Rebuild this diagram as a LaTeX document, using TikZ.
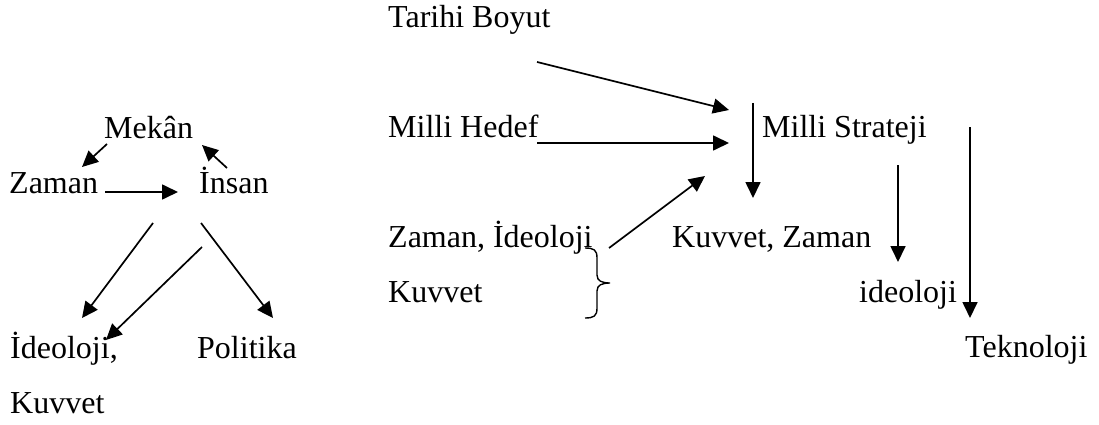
\documentclass[tikz,border=0pt]{standalone}
\usepackage{fontspec}
\setmainfont{Liberation Serif}
\usetikzlibrary{arrows.meta}

\tikzset{
	word/.style={anchor=base west, inner sep=0pt, font=\fontsize{32}{38}\selectfont},
	link/.style={line width=1.7pt, -{Triangle[length=16pt, width=15pt]}}
}

\begin{document}
\begin{tikzpicture}[x=1pt, y=-1pt]
	\useasboundingbox (0,0) rectangle (1099,425);

	% left triangle
	\node[word] (mekan) at (104,138) {Mekân};
	\node[word] (zaman) at (9,193) {Zaman};
	\node[word] (insan) at (199,193) {İnsan};
	\node[word] (ideo) at (10,358) {İdeoloji,};
	\node[word] (kuv) at (10,413) {Kuvvet};
	\node[word] (pol) at (197,358) {Politika};

	% right part
	\node[word] (tarih) at (388,28) {Tarihi Boyut};
	\node[word] (hedef) at (388,137) {Milli Hedef};
	\node[word] (strat) at (762,137) {Milli Strateji};
	\node[word] (zid) at (388,247) {Zaman, İdeoloji};
	\node[word] (kuvr) at (388,302) {Kuvvet};
	\node[word] (kz) at (672,247) {Kuvvet, Zaman};
	\node[word] (ideor) at (859,302) {ideoloji};
	\node[word] (tek) at (965,357) {Teknoloji};

	% arrow ends
	\coordinate (m1) at (107,144); \coordinate (m2) at (82,167);
	\coordinate (i1) at (227,168); \coordinate (i2) at (202,145);
	\coordinate (z1) at (105,192); \coordinate (z2) at (178,192);
	\coordinate (a1) at (153,223); \coordinate (a2) at (82,318);
	\coordinate (b1) at (202,247); \coordinate (b2) at (106,340);
	\coordinate (c1) at (201,223); \coordinate (c2) at (273,318);
	\coordinate (t1) at (537,62);  \coordinate (t2) at (729,110);
	\coordinate (h1) at (537,143); \coordinate (h2) at (729,143);
	\coordinate (g1) at (609,248); \coordinate (g2) at (705,176);
	\coordinate (s1) at (753,103); \coordinate (s2) at (753,198);
	\coordinate (d1) at (898,165); \coordinate (d2) at (898,262);
	\coordinate (e1) at (970,127); \coordinate (e2) at (970,318);

	% arrows
	\draw[link] (m1) -- (m2);
	\draw[link] (i1) -- (i2);
	\draw[link] (z1) -- (z2);
	\draw[link] (a1) -- (a2);
	\draw[link] (b1) -- (b2);
	\draw[link] (c1) -- (c2);
	\draw[link] (t1) -- (t2);
	\draw[link] (h1) -- (h2);
	\draw[link] (g1) -- (g2);
	\draw[link] (s1) -- (s2);
	\draw[link] (d1) -- (d2);
	\draw[link] (e1) -- (e2);

	% brace
	\draw[line width=1.4pt] (585,248) .. controls (594,248) and (597,250) .. (597,258)
		-- (597,275) .. controls (597,281) and (602,283) .. (610,283)
		.. controls (602,283) and (597,285) .. (597,291)
		-- (597,308) .. controls (597,316) and (594,318) .. (585,318);
\end{tikzpicture}
\end{document}
